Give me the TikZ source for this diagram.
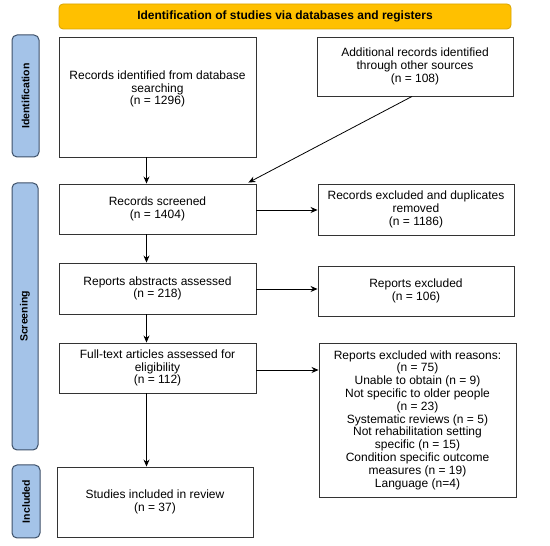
\documentclass[tikz,border=0pt]{standalone}
\usepackage{fontspec}
\setmainfont{Liberation Sans}
\usetikzlibrary{arrows.meta,calc}
\definecolor{bannerfill}{HTML}{FFC000}
\definecolor{bannerdraw}{HTML}{D9A400}
\definecolor{sidefill}{HTML}{A4C3E8}
\definecolor{sidedraw}{HTML}{3E5169}
\definecolor{boxdraw}{HTML}{333333}
\tikzset{
  x=1pt,y=1pt,
  box/.style={draw=boxdraw,line width=0.9pt,fill=white,inner sep=0pt,align=center,
    font=\fontsize{12}{12.8}\selectfont},
  sidelabel/.style={draw=sidedraw,fill=sidefill,line width=1pt,rounded corners=5pt,rotate=90,
    inner sep=0pt,font=\fontsize{10.5}{12}\selectfont\bfseries},
  arr/.style={-{Stealth[length=7pt,width=6pt]},line width=0.8pt,black},
}
\begin{document}
\begin{tikzpicture}
\useasboundingbox (0,0) rectangle (550,546);
\fill[white] (0,0) rectangle (550,546);
% banner
\node[draw=bannerdraw,fill=bannerfill,line width=0.8pt,rounded corners=4pt,minimum width=452,minimum height=25,
  inner sep=0pt,font=\fontsize{12}{14}\selectfont\bfseries] (banner) at (285,529.5)
  {Identification of studies via databases and registers};
% side labels
\node[sidelabel,minimum width=122,minimum height=27] (lid) at (25.5,450) {Identification};
\node[sidelabel,minimum width=267,minimum height=26] (lsc) at (25,229.5) {Screening};
\node[sidelabel,minimum width=73,minimum height=28] (lin) at (26,44.5) {Included};
% boxes
\node[box,minimum width=197,minimum height=120,
  label={[align=center,font=\fontsize{12}{12.8}\selectfont,yshift=8pt]center:Records identified from database\\searching\\(n = 1296)}]
  (A) at (157.5,449) {};
\node[box,minimum width=196,minimum height=59] (B) at (415,479.5)
  {Additional records identified\\through other sources\\(n = 108)};
\node[box,minimum width=197,minimum height=50] (S) at (157.5,337) {Records screened\\(n = 1404)};
\node[box,minimum width=196,minimum height=51] (E1) at (416,336.5)
  {Records excluded and duplicates\\removed\\(n = 1186)};
\node[box,minimum width=197,minimum height=51] (Ab) at (157.5,257.5) {Reports abstracts assessed\\(n = 218)};
\node[box,minimum width=196,minimum height=50] (E2) at (416,255) {Reports excluded\\(n = 106)};
\node[box,minimum width=197,minimum height=50] (F) at (157.5,178) {Full-text articles assessed for\\eligibility\\(n = 112)};
\node[box,minimum width=197,minimum height=154] (R) at (417.5,126)
  {Reports excluded with reasons:\\(n = 75)\\Unable to obtain (n = 9)\\Not specific to older people\\(n = 23)\\Systematic reviews (n = 5)\\Not rehabilitation setting\\specific (n = 15)\\Condition specific outcome\\measures (n = 19)\\Language (n=4)};
\node[box,minimum width=196,minimum height=70] (I) at (155,44) {Studies included in review\\(n = 37)};
% connectors
\draw[arr] ([xshift=-11pt]A.south) -- ([xshift=-11pt]A.south |- S.north);
\coordinate (diagend) at ($(S.north east)+(-8,1)$);
\draw[arr] ([xshift=-3pt]B.south) -- (diagend);
\draw[arr] ([xshift=-11pt]S.south) -- ([xshift=-11pt]S.south |- Ab.north);
\draw[arr] ([xshift=-11pt]Ab.south) -- ([xshift=-11pt]Ab.south |- F.north);
\draw[arr] ([xshift=-11pt]F.south) -- ([xshift=-11pt]F.south |- I.north);
\draw[arr] ([yshift=-1pt]S.east) -- ([yshift=-1pt]S.east -| E1.west);
\draw[arr] ([yshift=-0.5pt]Ab.east) -- ([yshift=-0.5pt]Ab.east -| E2.west);
\draw[arr] ([yshift=-2pt]F.east) -- ([yshift=-2pt]F.east -| R.west);
\end{tikzpicture}
\end{document}
